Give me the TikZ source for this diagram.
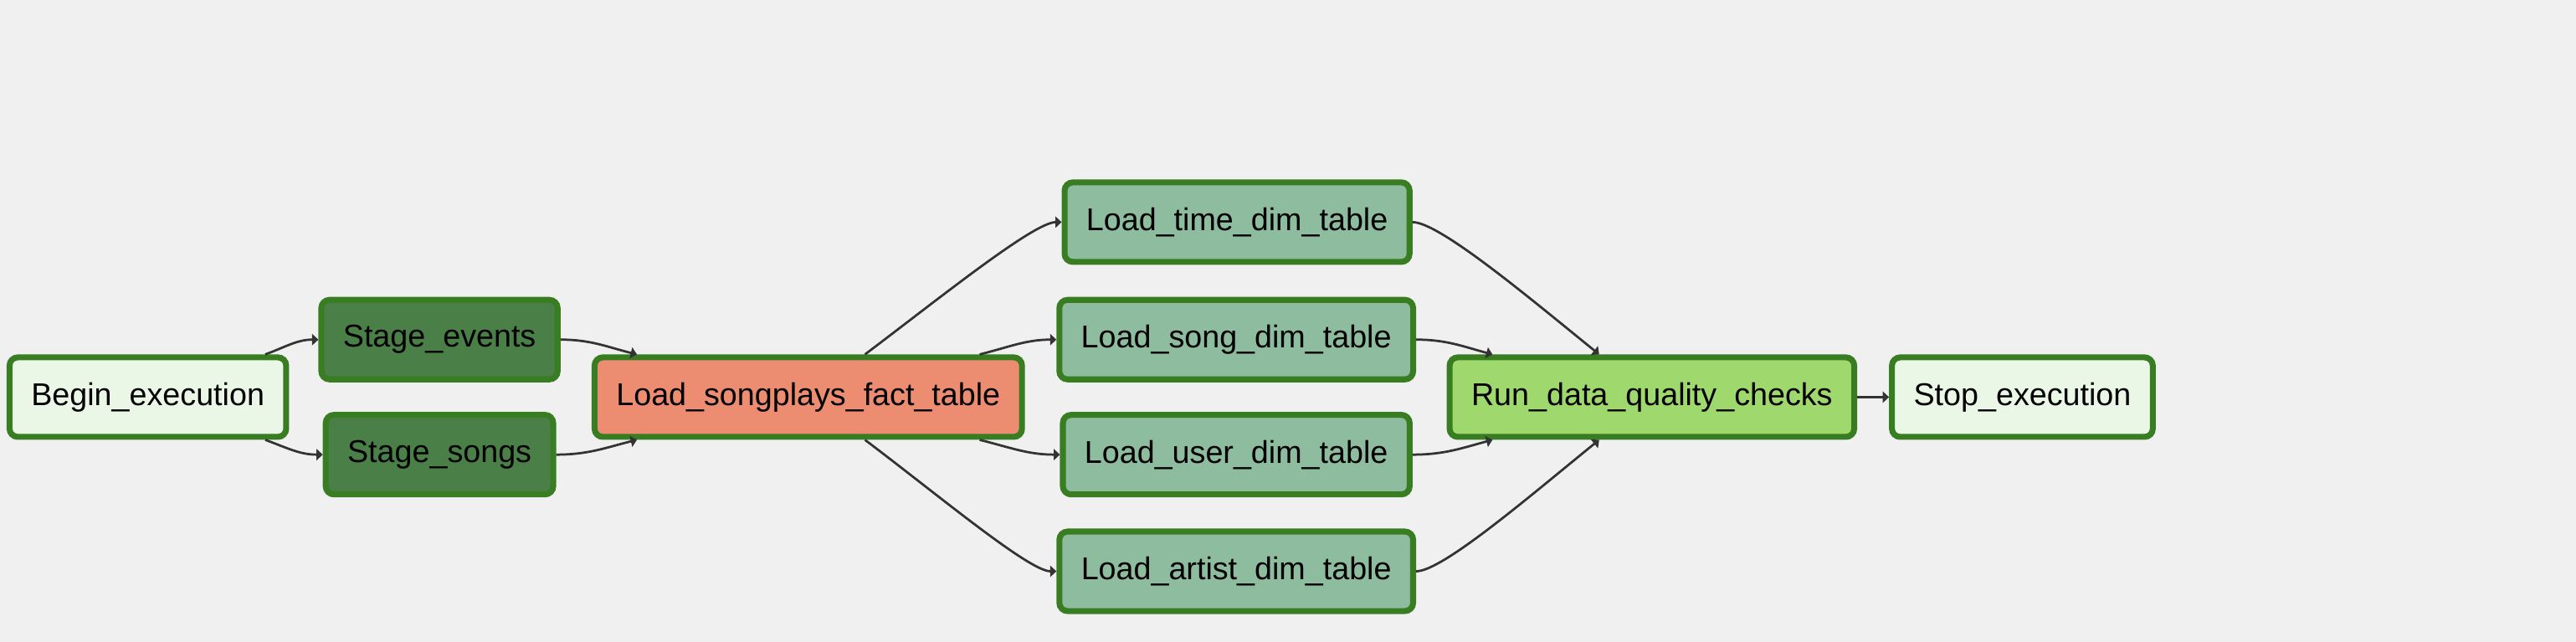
\documentclass[tikz,border=0pt]{standalone}
\usepackage{fontspec}
\setmainfont{Liberation Sans}
\usetikzlibrary{arrows.meta}

\definecolor{bgcol}{RGB}{240,240,240}
\definecolor{okgreen}{RGB}{56,125,34}
\definecolor{edgecol}{RGB}{51,51,51}
\definecolor{dummycol}{RGB}{235,247,230}
\definecolor{stagecol}{RGB}{74,127,71}
\definecolor{factcol}{RGB}{236,140,112}
\definecolor{dimcol}{RGB}{142,188,158}
\definecolor{checkcol}{RGB}{159,216,108}

\begin{document}
\begin{tikzpicture}[x=0.5pt, y=0.5pt,
		task/.style={draw=okgreen, line width=1.8pt, rounded corners=2.5pt,
			minimum height=24.2pt, inner xsep=6.6pt, text=black,
			font=\fontsize{9.6}{11}\selectfont},
		edge/.style={->, >={Triangle[length=1.9pt, width=3.4pt]}, draw=edgecol, line width=0.7pt}]
		\fill[bgcol] (0,0) rectangle (1568,390.7);
		\useasboundingbox (0,0) rectangle (1568,390.7);

		\node (bg)   [task, fill=dummycol] at (90,149)     {Begin\_execution};
		\node (se)   [task, fill=stagecol] at (267.5,184)  {Stage\_events};
		\node (ss)   [task, fill=stagecol] at (267.5,114)  {Stage\_songs};
		\node (fact) [task, fill=factcol]  at (492,149)    {Load\_songplays\_fact\_table};
		\node (d1)   [task, fill=dimcol]   at (753,255.5)  {Load\_time\_dim\_table};
		\node (d2)   [task, fill=dimcol]   at (752.5,184)  {Load\_song\_dim\_table};
		\node (d3)   [task, fill=dimcol]   at (752.5,114)  {Load\_user\_dim\_table};
		\node (d4)   [task, fill=dimcol]   at (752.5,43)   {Load\_artist\_dim\_table};
		\node (q)    [task, fill=checkcol] at (1005.5,149) {Run\_data\_quality\_checks};
		\node (stop) [task, fill=dummycol] at (1231,149)   {Stop\_execution};

		\draw[edge] (bg) to[out=20, in=180] (se);
		\draw[edge] (bg) to[out=-20, in=180] (ss);
		\draw[edge] (se) to[out=0, in=166] (fact);
		\draw[edge] (ss) to[out=0, in=194] (fact);
		% long ones run straight and bend near the box
		\draw[edge] (fact) to[out=37, in=180, out looseness=1, in looseness=0.3] (d1);
		\draw[edge] (fact) to[out=14, in=180] (d2);
		\draw[edge] (fact) to[out=-14, in=180] (d3);
		\draw[edge] (fact) to[out=-37, in=180, out looseness=1, in looseness=0.3] (d4);
		\draw[edge] (d1) to[out=0, in=141, out looseness=0.3, in looseness=1] (q);
		\draw[edge] (d2) to[out=0, in=165] (q);
		\draw[edge] (d3) to[out=0, in=195] (q);
		\draw[edge] (d4) to[out=0, in=219, out looseness=0.3, in looseness=1] (q);
		\draw[edge] (q) -- (stop);
\end{tikzpicture}
\end{document}
